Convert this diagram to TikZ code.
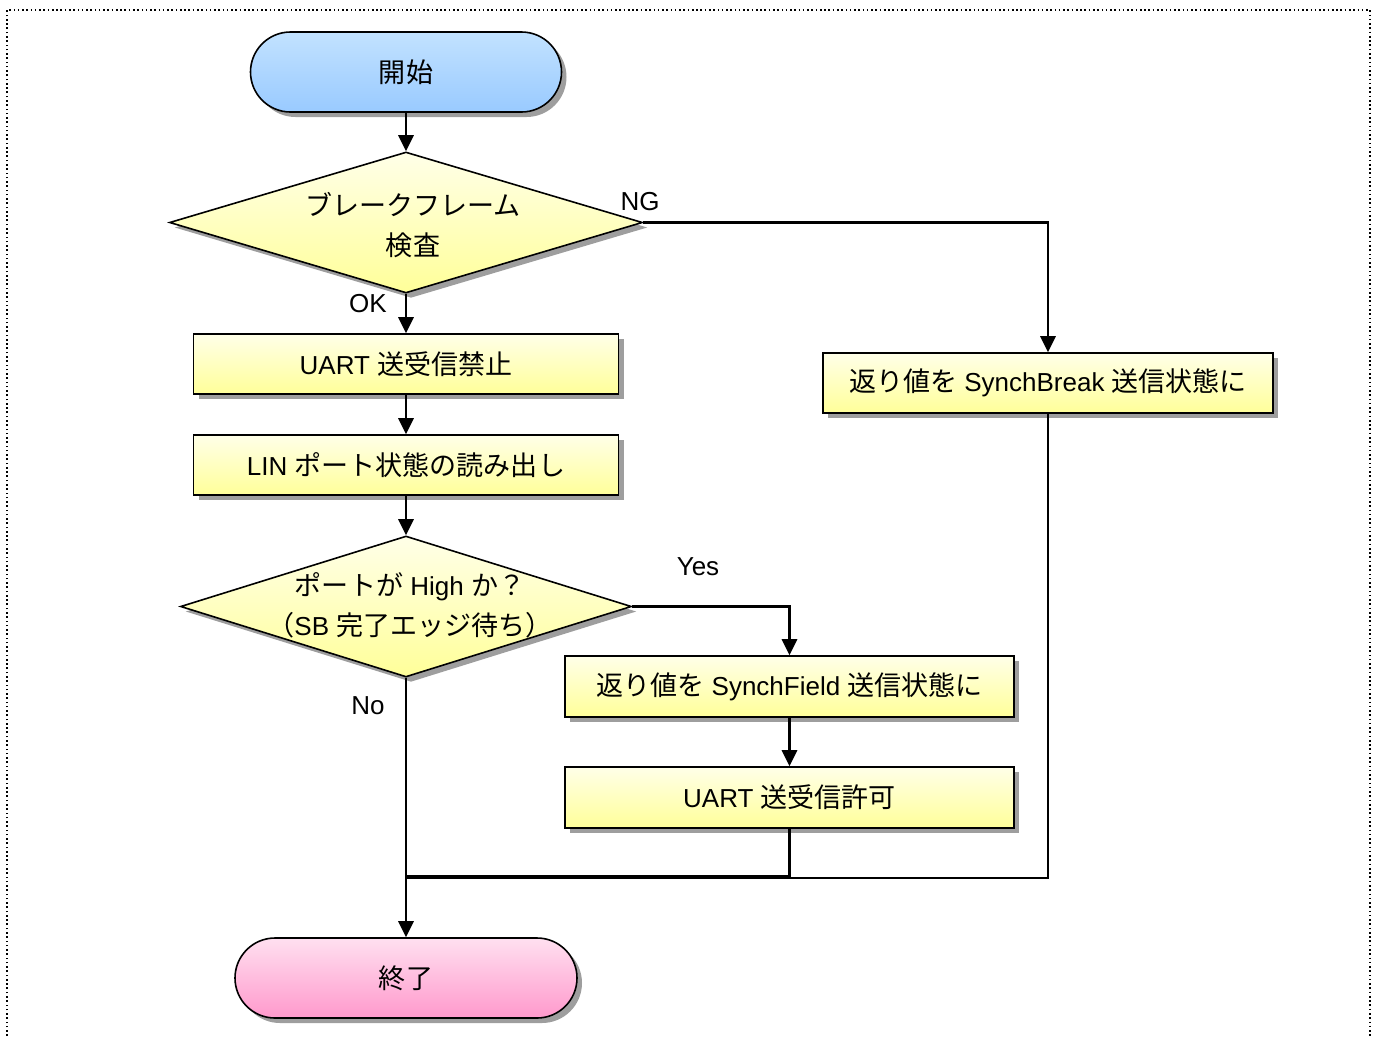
\documentclass[tikz,border=0pt]{standalone}
\usepackage{fontspec}
\setmainfont{Liberation Sans}
\newfontfamily\jp[Scale=1.04]{Noto Sans CJK JP}
\usetikzlibrary{shapes.geometric,shadows,arrows.meta}
\definecolor{bluetop}{HTML}{C2E2FF}
\definecolor{bluebot}{HTML}{99CAFF}
\definecolor{yeltop}{HTML}{FFFFE8}
\definecolor{yelbot}{HTML}{FFFF99}
\definecolor{pinktop}{HTML}{FFE0F0}
\definecolor{pinkbot}{HTML}{FF99CC}
\begin{document}
\begin{tikzpicture}[x=0.75pt,y=-0.75pt,
  font=\fontsize{19.5}{30}\selectfont,
  shad/.style={drop shadow={shadow xshift=3.75pt,shadow yshift=-3.75pt,fill=black!38,opacity=1}},
  term/.style={draw=black,line width=1.2pt,rounded corners=30pt,minimum height=60pt,inner sep=0pt,shad},
  proc/.style={draw=black,line width=1.2pt,inner sep=0pt,top color=yeltop,bottom color=yelbot,shad},
  dec/.style={draw=black,diamond,line width=1.2pt,inner sep=0pt,top color=yeltop,bottom color=yelbot,shad,minimum height=105.75pt},
  dtext/.style={align=center,inner sep=0pt},
  conn/.style={line width=1.6pt},
  arr/.style={conn,-{Triangle[length=12pt,width=11.5pt]}},
  lbl/.style={inner sep=0pt}
]
\useasboundingbox (0,0) rectangle (1378,1036);
\draw[line width=1.2pt,dotted] (7,1036) -- (7,10) -- (1370,10) -- (1370,1036);

% nodes
\node[term,top color=bluetop,bottom color=bluebot,minimum width=233.25pt] (start) at (406,72) {\jp 開始};
\node[dec,minimum width=354.75pt] (d1) at (406,222.5) {};
\node[dtext] (d1t) at (413,225) {\jp ブレークフレーム\\\jp 検査};
\node[proc,minimum width=318.75pt,minimum height=45pt] (b1) at (406,364) {UART {\jp 送受信禁止}};
\node[proc,minimum width=318.75pt,minimum height=45pt] (b2) at (406,465) {LIN {\jp ポート状態の読み出し}};
\node[dec,minimum width=338.25pt] (d2) at (406,606.5) {};
\node[dtext] (d2t) at (410,605) {{\jp ポートが} High {\jp か？}\\{\jp （}SB {\jp 完了エッジ待ち）}};
\node[proc,minimum width=336.75pt,minimum height=45.75pt] (b3) at (789.5,686.5) {{\jp 返り値を} SynchField {\jp 送信状態に}};
\node[proc,minimum width=336.75pt,minimum height=45.75pt] (b4) at (789.5,797.5) {UART {\jp 送受信許可}};
\node[proc,minimum width=337.5pt,minimum height=45pt] (b5) at (1048,383) {{\jp 返り値を} SynchBreak {\jp 送信状態に}};
\node[term,top color=pinktop,bottom color=pinkbot,minimum width=256.5pt] (end) at (406,978) {\jp 終了};

% labels
\node[lbl] (ng) at (640,202) {NG};
\node[lbl] (ok) at (368,304) {OK};
\node[lbl] (yes) at (698,567) {Yes};
\node[lbl] (no) at (368,706) {No};

% merge points
\coordinate (m1) at (406,876);
\coordinate (m2) at (406,878);

% connectors
\draw[arr] (start.south) -- (d1.north);
\draw[arr] (d1.south) -- (b1.north);
\draw[arr] (b1.south) -- (b2.north);
\draw[arr] (b2.south) -- (d2.north);
\draw[arr] (d1.east) -| (b5.north);
\draw[arr] (d2.east) -| (b3.north);
\draw[arr] (b3.south) -- (b4.north);
\draw[conn] (b4.south) |- (m1);
\draw[conn] (b5.south) |- (m2);
\draw[arr] (d2.south) -- (end.north);
\end{tikzpicture}
\end{document}
